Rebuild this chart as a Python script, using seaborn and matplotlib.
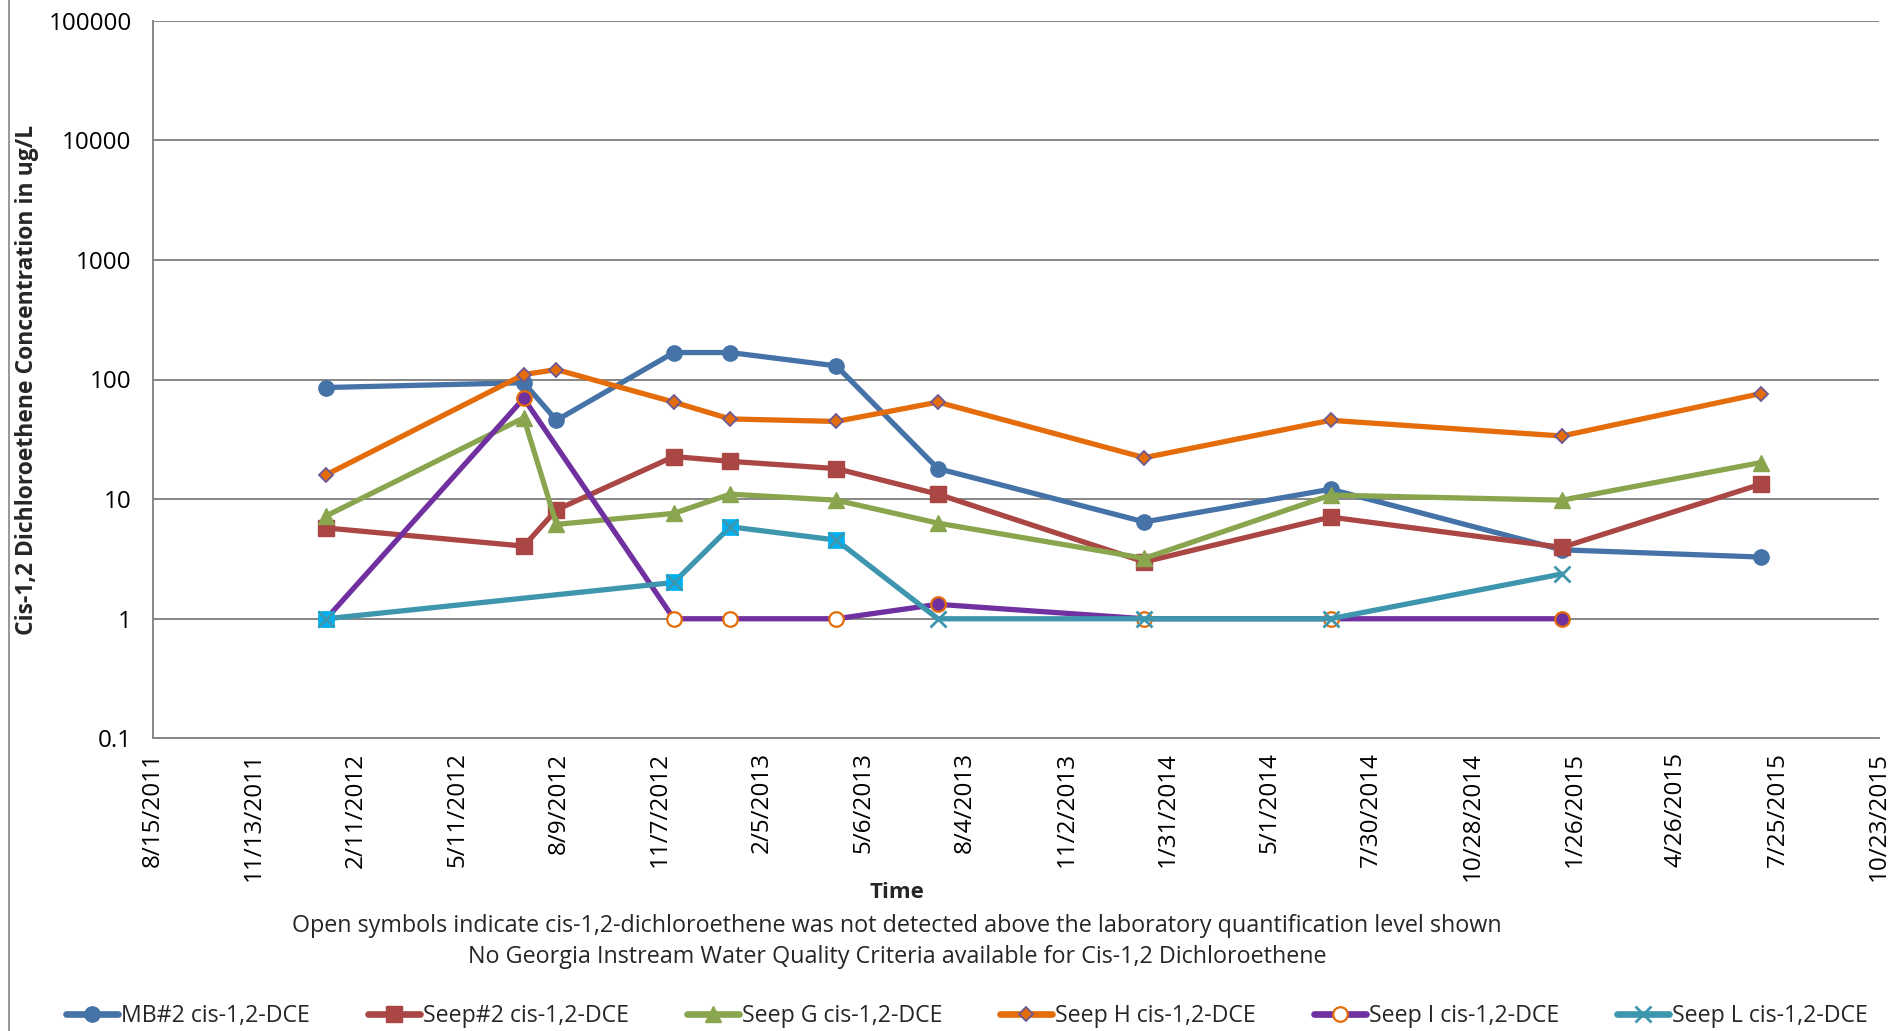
import matplotlib
matplotlib.use("Agg")
import matplotlib.pyplot as plt
import matplotlib.dates as mdates
from matplotlib.lines import Line2D
from matplotlib.ticker import FixedLocator, NullLocator
import pandas as pd
import seaborn as sns

# ---- sampling data (cis-1,2-DCE, ug/L) ----
sample_dates = ["2012-01-16", "2012-07-09", "2012-08-07", "2012-11-19", "2013-01-08",
                "2013-04-12", "2013-07-11", "2014-01-10", "2014-06-24", "2015-01-15",
                "2015-07-10"]

mb2_values = [85.7, 94, 45.6, 168, 168, 130, 18, 6.45, 12.1, 3.77, 3.28]
seep2_values = [5.74, 4.05, 8.14, 22.7, 20.7, 18, 11, 2.99, 7.08, 3.95, 13.3]
seepg_values = [7.25, 47.8, 6.15, 7.6, 11, 9.8, 6.3, 3.2, 10.8, 9.8, 20.2]
seeph_values = [16, 110, 121, 64.7, 46.8, 44.6, 64.7, 22.2, 45.6, 33.7, 76.2]

seepi_dates = ["2012-01-16", "2012-07-09", "2012-11-19", "2013-01-08", "2013-04-12",
               "2013-07-11", "2014-01-10", "2014-06-24", "2015-01-15"]
seepi_values = [1, 69.5, 1, 1, 1, 1.32, 1, 1, 1]
seepi_detected = [False, True, False, False, False, True, False, False, True]

seepl_dates = ["2012-01-16", "2012-11-19", "2013-01-08", "2013-04-12", "2013-07-11",
               "2014-01-10", "2014-06-24", "2015-01-15"]
seepl_values = [1, 2.01, 5.87, 4.55, 1, 1, 1, 2.37]
seepl_boxed = [True, True, True, True, False, False, False, False]

series_names = ["MB#2 cis-1,2-DCE", "Seep#2 cis-1,2-DCE", "Seep G cis-1,2-DCE",
                "Seep H cis-1,2-DCE", "Seep I cis-1,2-DCE", "Seep L cis-1,2-DCE"]

y_ticks = [0.1, 1, 10, 100, 1000, 10000, 100000]
y_tick_labels = ["0.1", "1", "10", "100", "1000", "10000", "100000"]
x_start, x_end = "2011-08-15", "2015-10-23"

# ---- styling ----
C_BLUE = "#4572A7"
C_RED = "#AA4643"
C_GREEN = "#89A54E"
C_ORANGE = "#E46C0A"
C_DIAMOND_EDGE = "#6B5894"
C_PURPLE = "#7030A0"
C_TEAL = "#3D96AE"
C_CYAN = "#00B0F0"
GRID = "#868686"
LW = 3.8

sns.set_style("white")
plt.rcParams["font.family"] = ["Open Sans", "DejaVu Sans"]

fig = plt.figure(figsize=(18.98, 10.31), dpi=100)
ax = fig.add_axes([152.5 / 1898, 1 - 738.4 / 1031, (1879 - 152.5) / 1898, 717.8 / 1031])


def frame(dates, values):
    return pd.DataFrame({"date": pd.to_datetime(dates), "value": values})


def draw_series(df, color, z, **marker_kw):
    sns.lineplot(data=df, x="date", y="value", ax=ax, color=color, lw=LW,
                 estimator=None, errorbar=None, sort=False, zorder=z,
                 solid_joinstyle="round", solid_capstyle="round", **marker_kw)


# MB#2
draw_series(frame(sample_dates, mb2_values), C_BLUE, 3,
            marker="o", markersize=11, markerfacecolor=C_BLUE,
            markeredgecolor=C_BLUE, markeredgewidth=1)
# Seep#2
draw_series(frame(sample_dates, seep2_values), C_RED, 4,
            marker="s", markersize=11, markerfacecolor=C_RED,
            markeredgecolor=C_RED, markeredgewidth=1)
# Seep G
draw_series(frame(sample_dates, seepg_values), C_GREEN, 5,
            marker="^", markersize=12, markerfacecolor=C_GREEN,
            markeredgecolor=C_GREEN, markeredgewidth=1)
# Seep H
draw_series(frame(sample_dates, seeph_values), C_ORANGE, 6,
            marker="D", markersize=7.5, markerfacecolor=C_ORANGE,
            markeredgecolor=C_DIAMOND_EDGE, markeredgewidth=1.3)

# Seep I: filled circles = detected, open circles = below quantification level
seepi = frame(seepi_dates, seepi_values)
seepi["detected"] = seepi_detected
draw_series(seepi, C_PURPLE, 7)
det = seepi[seepi["detected"]]
nd = seepi[~seepi["detected"]]
sns.scatterplot(data=det, x="date", y="value", ax=ax, marker="o", s=110,
                color=C_PURPLE, edgecolor=C_ORANGE, linewidth=1.6, zorder=7.1)
sns.scatterplot(data=nd, x="date", y="value", ax=ax, marker="o", s=110,
                color="white", edgecolor=C_ORANGE, linewidth=1.6, zorder=7.1)

# Seep L: x markers, some points boxed in cyan squares
seepl = frame(seepl_dates, seepl_values)
seepl["boxed"] = seepl_boxed
draw_series(seepl, C_TEAL, 8, marker="x", markersize=11,
            markeredgecolor=C_TEAL, markeredgewidth=2)
boxed = seepl[seepl["boxed"]]
sns.scatterplot(data=boxed, x="date", y="value", ax=ax, marker="s", s=140,
                color=C_CYAN, edgecolor=C_CYAN, linewidth=0.5, zorder=8.1)
sns.scatterplot(data=boxed, x="date", y="value", ax=ax, marker="x", s=110,
                color=C_TEAL, linewidth=2, zorder=8.2)

# ---- axes ----
ax.set_yscale("log")
ax.set_ylim(0.1, 100000)
ax.yaxis.set_major_locator(FixedLocator(y_ticks))
ax.yaxis.set_minor_locator(NullLocator())
ax.set_yticks(y_ticks)
ax.set_yticklabels(y_tick_labels)

x_ticks = pd.date_range(x_start, x_end, freq="90D")
x_nums = mdates.date2num(x_ticks.to_pydatetime())
ax.set_xlim(x_nums[0], x_nums[-1])
ax.xaxis.set_major_locator(FixedLocator(x_nums))
ax.xaxis.set_minor_locator(NullLocator())
ax.set_xticks(x_nums)
ax.set_xticklabels([f"{d.month}/{d.day}/{d.year}" for d in x_ticks], rotation=90)

ax.set_xlabel("")
ax.set_ylabel("")
ax.grid(axis="y", color=GRID, lw=1.4, zorder=0)
ax.grid(axis="x", visible=False)
ax.set_axisbelow(True)
for side in ("top", "right"):
    ax.spines[side].set_visible(False)
for side in ("left", "bottom"):
    ax.spines[side].set_color(GRID)
    ax.spines[side].set_linewidth(1.4)
ax.tick_params(axis="both", which="major", direction="out", length=7, width=1.4,
               color=GRID, labelsize=17.5, labelcolor="black")
ax.tick_params(axis="y", pad=8)
ax.tick_params(axis="x", pad=3)
ax.set_facecolor("white")

# ---- surrounding text ----
fig.text(26.6 / 1898, 1 - 379.5 / 1031, "Cis-1,2 Dichloroethene Concentration in ug/L",
         rotation=90, ha="center", va="center", fontsize=16.5, fontweight="bold")
fig.text(897 / 1898, 1 - 893 / 1031, "Time", ha="center", va="center",
         fontsize=16, fontweight="bold")
fig.text(897 / 1898, 1 - 926 / 1031,
         "Open symbols indicate cis-1,2-dichloroethene was not detected above the laboratory quantification level shown",
         ha="center", va="center", fontsize=16.8)
fig.text(897 / 1898, 1 - 957 / 1031,
         "No Georgia Instream Water Quality Criteria available for Cis-1,2 Dichloroethene",
         ha="center", va="center", fontsize=16.8)

# chart-area border on the left
fig.add_artist(Line2D([8.5 / 1898, 8.5 / 1898], [0, 1], transform=fig.transFigure,
                      color=GRID, lw=1.2))

# ---- legend ----
handles = [
    Line2D([], [], color=C_BLUE, lw=LW + 1, marker="o", markersize=11,
           markerfacecolor=C_BLUE, markeredgecolor=C_BLUE),
    Line2D([], [], color=C_RED, lw=LW + 1, marker="s", markersize=11,
           markerfacecolor=C_RED, markeredgecolor=C_RED),
    Line2D([], [], color=C_GREEN, lw=LW + 1, marker="^", markersize=12,
           markerfacecolor=C_GREEN, markeredgecolor=C_GREEN),
    Line2D([], [], color=C_ORANGE, lw=LW + 1, marker="D", markersize=7.5,
           markerfacecolor=C_ORANGE, markeredgecolor=C_DIAMOND_EDGE, markeredgewidth=1.3),
    Line2D([], [], color=C_PURPLE, lw=LW + 1, marker="o", markersize=10.5,
           markerfacecolor="white", markeredgecolor=C_ORANGE, markeredgewidth=1.6),
    Line2D([], [], color=C_TEAL, lw=LW + 1, marker="x", markersize=11,
           markeredgecolor=C_TEAL, markeredgewidth=2),
]
fig.legend(handles, series_names, loc="center left", ncol=6, frameon=False,
           bbox_to_anchor=(66 / 1898, 1 - 1016 / 1031), fontsize=16.7,
           handlelength=2.25, handletextpad=0.12, columnspacing=2.5,
           borderpad=0, borderaxespad=0)

fig.savefig("out.png", dpi=100, facecolor="white")
